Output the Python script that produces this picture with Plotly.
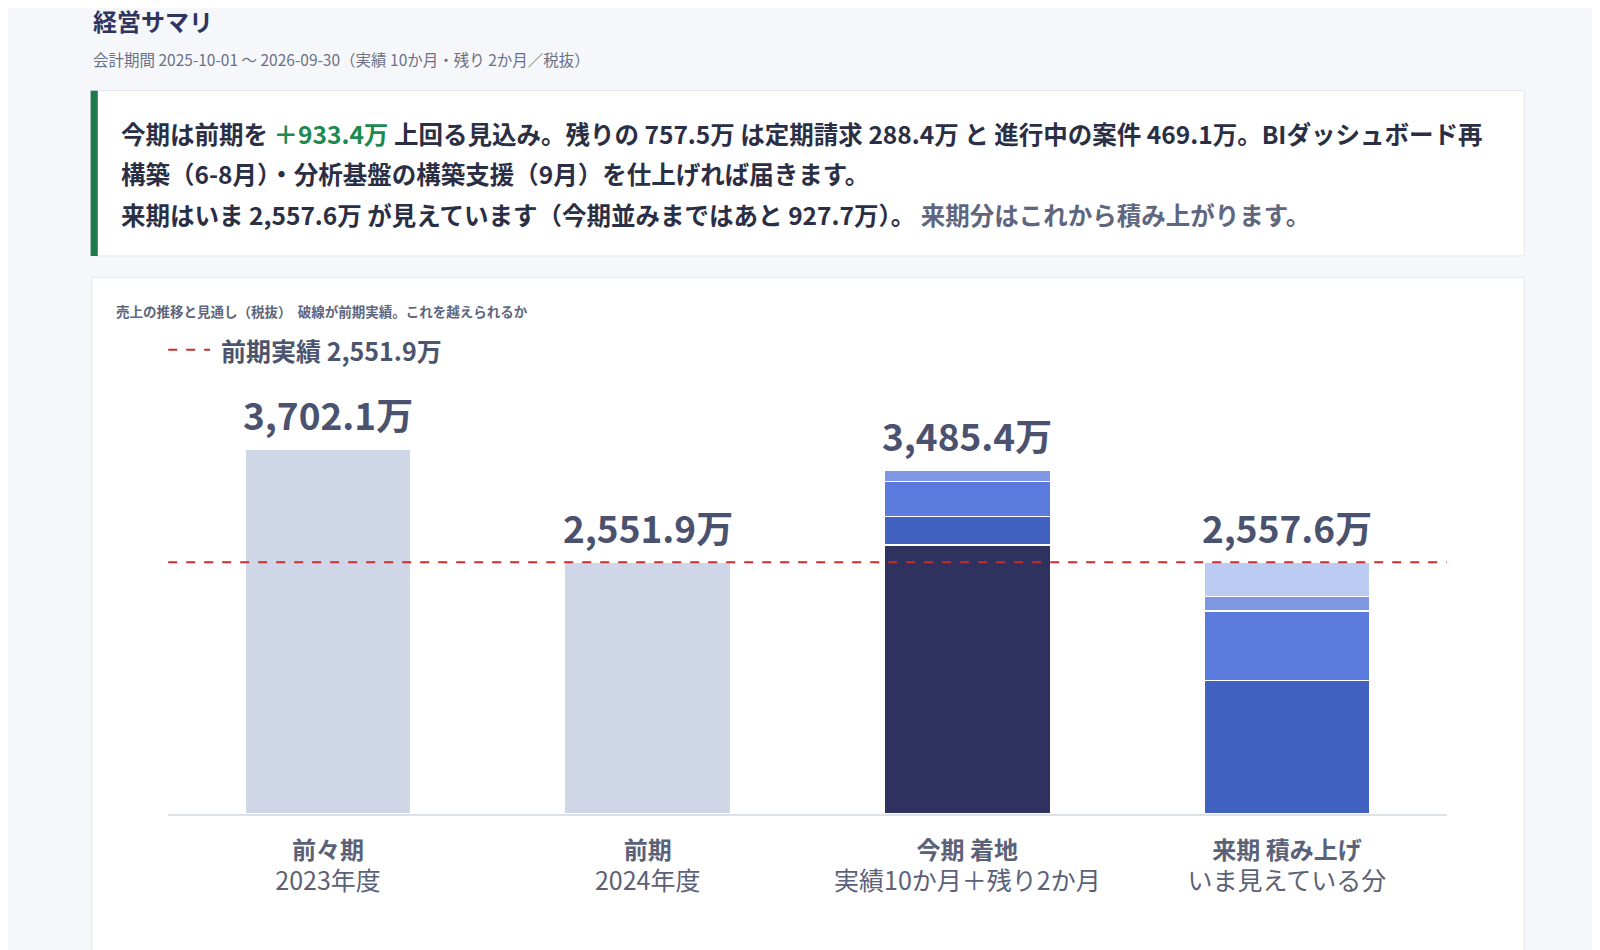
import plotly.graph_objects as go

S = 1600/1568
def px(v): return v*S

categories = ["前々期", "前期", "今期 着地", "来期 積み上げ"]
cat_sub = ["2023年度", "2024年度", "実績10か月＋残り2か月", "いま見えている分"]
totals = [3702.1, 2551.9, 3485.4, 2557.6]
prev_actual = 2551.9

# stacked segments (bottom to top)
past_vals = [3702.1, 2551.9, None, None]
cur_actual = [None, None, 2727.9, None]
cur_recurring = [None, None, 288.4, None]
cur_proj_a = [None, None, 353.4, None]
cur_proj_b = [None, None, 115.7, None]
next_a = [None, None, None, 1354.5]
next_b = [None, None, None, 703.2]
next_c = [None, None, None, 147.5]
next_d = [None, None, None, 352.4]

FONT = "Noto Sans CJK JP"
W, H = 1600, 950
def py(v): return 1 - px(v)/H
def pxx(v): return px(v)/W

fig = go.Figure()
series = [
    (past_vals, "#cfd6e7"),
    (cur_actual, "#2f315f"),
    (cur_recurring, "#4161c0"),
    (cur_proj_a, "#5a7ade"),
    (cur_proj_b, "#7f97e2"),
    (next_a, "#4161c0"),
    (next_b, "#5a7ade"),
    (next_c, "#7f97e2"),
    (next_d, "#bccbf1"),
]
for vals, col in series:
    fig.add_trace(go.Bar(x=categories, y=vals, marker=dict(color=col, line=dict(color="white", width=1.5)),
                         width=0.52, hoverinfo="skip", showlegend=False))

ticktext = [f"<b>{c}</b><br><span style='font-size:25px'>{s}</span>" for c, s in zip(categories, cat_sub)]

shapes = [
    dict(type="rect", xref="paper", yref="paper", x0=pxx(81), x1=pxx(1486), y0=py(243), y1=py(81),
         line=dict(color="#e3e6ee", width=1), fillcolor="white", layer="below"),
    dict(type="rect", xref="paper", yref="paper", x0=pxx(81), x1=pxx(88), y0=py(243), y1=py(81),
         line=dict(width=0), fillcolor="#1e7a4c", layer="below"),
    dict(type="rect", xref="paper", yref="paper", x0=pxx(82), x1=pxx(1486), y0=py(960), y1=py(264),
         line=dict(color="#e3e6ee", width=1), fillcolor="white", layer="below"),
    dict(type="rect", xref="paper", yref="paper", x0=pxx(104), x1=pxx(1464), y0=py(960), y1=py(925),
         line=dict(width=0), fillcolor="#eef2fa", layer="below"),
    dict(type="line", xref="paper", yref="y", x0=pxx(157), x1=pxx(1410), y0=prev_actual, y1=prev_actual,
         line=dict(color="#c62f2f", width=2, dash="dash")),
    dict(type="line", xref="paper", yref="paper", x0=pxx(157), x1=pxx(198), y0=py(335), y1=py(335),
         line=dict(color="#c62f2f", width=2, dash="dash")),
]

ann = []
def text(x, y, t, size, color="#2b2f45", anchor="left", yanchor="middle"):
    ann.append(dict(x=pxx(x), y=py(y), xref="paper", yref="paper", text=t, showarrow=False,
                    xanchor=anchor, yanchor=yanchor, font=dict(family=FONT, size=size, color=color)))

text(81, 12, "<b>経営サマリ</b>", 24, "#2f3560")
text(81, 50, "会計期間 2025-10-01 〜 2026-09-30（実績 10か月・残り 2か月／税抜）", 15.5, "#6b7185")
text(109, 123, "<b>今期は前期を <span style='color:#1e8a50'>＋933.4万</span> 上回る見込み。残りの 757.5万 は定期請求 288.4万 と 進行中の案件 469.1万。BIダッシュボード再</b>", 24.5)
text(109, 162, "<b>構築（6-8月）・分析基盤の構築支援（9月）を仕上げれば届きます。</b>", 24.5)
text(109, 202, "<b>来期はいま 2,557.6万 が見えています（今期並みまではあと 927.7万）。 <span style='color:#5f6680'>来期分はこれから積み上がります。</span></b>", 24.5)
text(104, 297, "<b>売上の推移と見通し（税抜）  破線が前期実績。これを越えられるか</b>", 13.5, "#5f6680")
text(207, 335, "<b>前期実績 2,551.9万</b>", 25, "#4d546e")

for c, t in zip(categories, totals):
    ann.append(dict(x=c, y=t, xref="x", yref="y", text=f"<b>{t:,.1f}万</b>", showarrow=False,
                    yanchor="bottom", yshift=6, font=dict(family=FONT, size=37, color="#4b5270")))

fig.update_layout(
    width=W, height=H, margin=dict(l=0, r=0, t=0, b=0),
    paper_bgcolor="#f6f7fb", plot_bgcolor="rgba(0,0,0,0)",
    barmode="stack", bargap=0.48,
    font=dict(family=FONT),
    shapes=shapes, annotations=ann,
    xaxis=dict(domain=[pxx(157), pxx(1410)], tickvals=categories, ticktext=ticktext,
               tickfont=dict(family=FONT, size=24, color="#5a6178"), showline=True,
               linecolor="#dde1ea", linewidth=1.5, ticks="", showgrid=False, ticklabelstandoff=14),
    yaxis=dict(domain=[py(790), py(380)], range=[0, 4240], visible=False, showgrid=False),
)
fig.write_html("out.html")
